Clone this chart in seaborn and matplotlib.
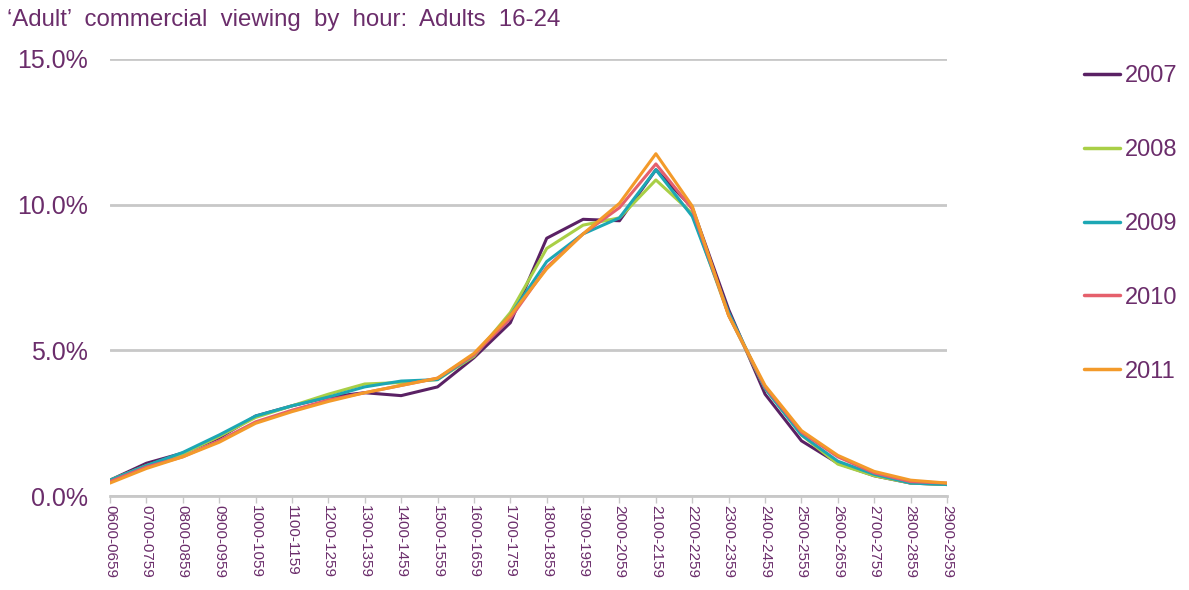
import pandas as pd
import numpy as np
import matplotlib
matplotlib.use("Agg")
import matplotlib.pyplot as plt
import seaborn as sns
from matplotlib.ticker import FuncFormatter

# Hour bands (broadcast day runs past midnight, hence 2400+)
hours = ['0600-0659', '0700-0759', '0800-0859', '0900-0959', '1000-1059', '1100-1159',
         '1200-1259', '1300-1359', '1400-1459', '1500-1559', '1600-1659', '1700-1759',
         '1800-1859', '1900-1959', '2000-2059', '2100-2159', '2200-2259', '2300-2359',
         '2400-2459', '2500-2559', '2600-2659', '2700-2759', '2800-2859', '2900-2959']

years = ['2007', '2008', '2009', '2010', '2011']

# share of viewing (%) per hour band
v2007 = [0.55, 1.13, 1.48, 2.0, 2.75, 3.1, 3.4, 3.55, 3.45, 3.75, 4.75, 5.95,
         8.85, 9.5, 9.45, 11.2, 9.9, 6.4, 3.5, 1.9, 1.13, 0.7, 0.45, 0.4]
v2008 = [0.55, 1.05, 1.45, 2.05, 2.7, 3.1, 3.5, 3.85, 3.9, 4.0, 4.8, 6.3,
         8.5, 9.3, 9.55, 10.85, 9.7, 6.2, 3.7, 2.1, 1.1, 0.7, 0.45, 0.4]
v2009 = [0.55, 1.05, 1.5, 2.1, 2.75, 3.1, 3.4, 3.75, 3.95, 4.0, 4.85, 6.2,
         8.05, 9.0, 9.55, 11.2, 9.6, 6.3, 3.7, 2.1, 1.2, 0.75, 0.45, 0.4]
v2010 = [0.5, 1.0, 1.35, 1.9, 2.55, 2.95, 3.3, 3.55, 3.8, 4.05, 4.85, 6.1,
         7.85, 9.0, 9.9, 11.4, 9.85, 6.2, 3.75, 2.2, 1.35, 0.8, 0.5, 0.45]
v2011 = [0.45, 0.95, 1.35, 1.85, 2.5, 2.9, 3.25, 3.55, 3.8, 4.05, 4.9, 6.2,
         7.8, 9.0, 10.05, 11.75, 9.95, 6.2, 3.8, 2.25, 1.4, 0.85, 0.55, 0.45]

colors = ['#5a2164', '#a9cf46', '#1ca7b4', '#e5606c', '#f39a2a']
text_col = '#6b2d6b'
grid_col = '#c8c8c8'

series = [v2007, v2008, v2009, v2010, v2011]
df = pd.concat([
    pd.DataFrame({'pos': np.arange(len(hours)), 'hour': hours, 'share': vals, 'year': yr})
    for yr, vals in zip(years, series)
])

sns.set_style("white")
plt.rcParams['font.family'] = ['Liberation Sans', 'DejaVu Sans']

fig = plt.figure(figsize=(11.89, 5.9), dpi=100)
ax = fig.add_axes([0.0925, 0.159, 0.704, 0.741])

sns.lineplot(data=df, x='pos', y='share', hue='year', palette=colors,
             linewidth=2.2, ax=ax, legend=False)

ax.set_xlim(0, len(hours) - 1)
ax.set_ylim(0, 15)
ax.set_yticks([0, 5, 10, 15])
ax.yaxis.set_major_formatter(FuncFormatter(lambda v, p: f'{v:.1f}%'))
ax.set_xticks(range(len(hours)))
ax.set_xticklabels(hours, rotation=270, fontsize=11, color=text_col)
ax.tick_params(axis='y', labelsize=18, labelcolor=text_col, length=0, pad=16)
ax.tick_params(axis='x', length=5, color=grid_col, width=1, pad=1, direction='out', bottom=True)

ax.grid(axis='y', color=grid_col, linewidth=2)
ax.set_axisbelow(True)
for s in ['top', 'right', 'left']:
    ax.spines[s].set_visible(False)
ax.spines['bottom'].set_color(grid_col)
ax.spines['bottom'].set_linewidth(2)
ax.set_xlabel('')
ax.set_ylabel('')

fig.text(0.006, 0.966, '\u2018Adult\u2019  commercial  viewing  by  hour:  Adults  16-24',
         fontsize=17.3, color=text_col, ha='left', va='center')

handles = [plt.Line2D([0], [0], color=c, linewidth=2.5) for c in colors]
fig.legend(handles, years, loc='upper left', bbox_to_anchor=(0.912, 0.89),
           frameon=False, fontsize=17, labelspacing=2.2, handlelength=1.5,
           handletextpad=0.2, borderpad=0, borderaxespad=0, labelcolor=text_col)

fig.savefig('out.png', dpi=100)
